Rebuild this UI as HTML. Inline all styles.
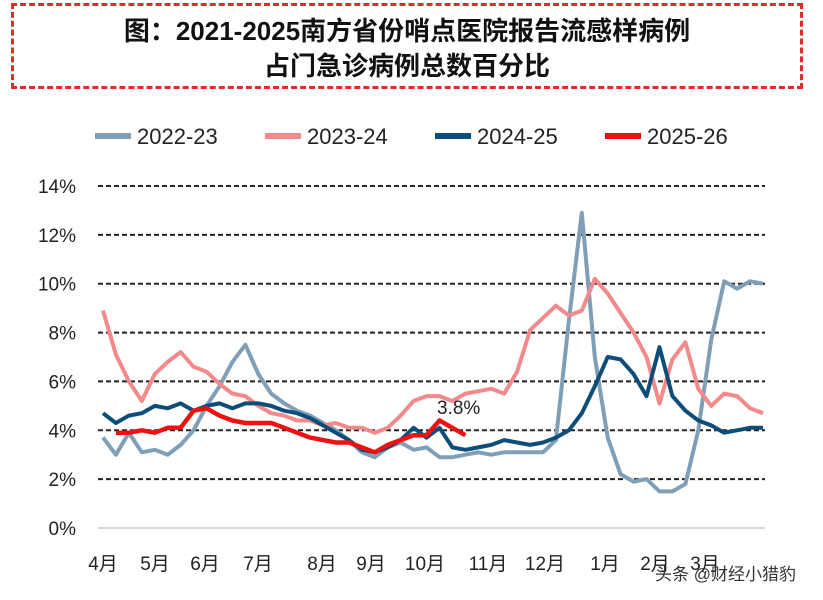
<!DOCTYPE html>
<html><head><meta charset="utf-8"><style>
body{margin:0;background:#fff;width:823px;height:600px;overflow:hidden;font-family:"Liberation Sans","Noto Sans CJK SC",sans-serif;}
#title{position:absolute;left:11px;top:3px;width:792px;height:86px;border:3px dashed #e8282b;box-sizing:border-box;text-align:center;font-weight:bold;font-size:26px;line-height:35px;padding-top:8px;color:#111;}
svg{position:absolute;left:0;top:0}
</style></head><body>
<div id="title">图：2021-2025南方省份哨点医院报告流感样病例<br>占门急诊病例总数百分比</div>
<svg id="c" width="823" height="600"></svg>
<script>
const months=["4月","5月","6月","7月","8月","9月","10月","11月","12月","1月","2月","3月"];
const monthX=[103,155,205,258,322,371,425,488,545,605,655,705];
const yTicks=[0,2,4,6,8,10,12,14];
const s2223=[3.7,3.0,3.9,3.1,3.2,3.0,3.4,4.0,5.0,5.8,6.8,7.5,6.3,5.5,5.1,4.8,4.6,4.3,4.0,3.6,3.1,2.9,3.3,3.5,3.2,3.3,2.9,2.9,3.0,3.1,3.0,3.1,3.1,3.1,3.1,3.6,8.5,12.9,7.0,3.7,2.2,1.9,2.0,1.5,1.5,1.8,4.0,7.7,10.1,9.8,10.1,10.0];
const s2324=[8.9,7.1,6.0,5.2,6.3,6.8,7.2,6.6,6.4,5.9,5.5,5.4,5.0,4.7,4.6,4.4,4.4,4.2,4.3,4.1,4.1,3.9,4.1,4.6,5.2,5.4,5.4,5.2,5.5,5.6,5.7,5.5,6.4,8.1,8.6,9.1,8.7,8.9,10.2,9.6,8.8,8.0,7.0,5.1,6.9,7.6,5.7,5.0,5.5,5.4,4.9,4.7];
const s2425=[4.7,4.3,4.6,4.7,5.0,4.9,5.1,4.8,5.0,5.1,4.9,5.1,5.1,5.0,4.8,4.7,4.5,4.2,3.9,3.6,3.2,3.1,3.3,3.6,4.1,3.7,4.1,3.3,3.2,3.3,3.4,3.6,3.5,3.4,3.5,3.7,4.0,4.7,5.8,7.0,6.9,6.3,5.4,7.4,5.4,4.8,4.4,4.2,3.9,4.0,4.1,4.1];
const s2526=[null,3.9,3.9,4.0,3.9,4.1,4.1,4.8,4.9,4.6,4.4,4.3,4.3,4.3,4.1,3.9,3.7,3.6,3.5,3.5,3.3,3.1,3.4,3.6,3.8,3.8,4.4,4.1,3.8];
const seriesNames=["2022-23","2023-24","2024-25","2025-26"];
const seriesData=[s2223,s2324,s2425,s2526];
const colors=["#7f9fb8","#f28a8c","#0d4d7a","#ee1111"];
const widths=[4,4,4,4.5];
const svg=document.getElementById('c');
const NS="http://www.w3.org/2000/svg";
const y=v=>528-v*(528-186)/14;
const x=i=>103+i*(763-103)/51;
function mk(t,a,p){const e=document.createElementNS(NS,t);for(const k in a)e.setAttribute(k,a[k]);(p||svg).appendChild(e);return e;}
yTicks.forEach(t=>{
 if(t>0){const l=mk('line',{x1:98,x2:765,y1:y(t),y2:y(t),stroke:'#222','stroke-width':2,'stroke-dasharray':'5,3'});
 
 }
 const tx=mk('text',{x:76,y:y(t)+7,'text-anchor':'end','font-size':19,fill:'#222'});tx.textContent=t+'%';
 
 
});
const ax=mk('line',{x1:98,x2:765,y1:528,y2:528,stroke:'#ccc','stroke-width':1.5});


months.forEach((m,i)=>{const t=mk('text',{x:monthX[i],y:570,'text-anchor':'middle','font-size':19,fill:'#222'});t.textContent=m;
 
 });
seriesData.forEach((d,s)=>{
 let p='';d.forEach((v,i)=>{if(v==null)return;p+=(p?'L':'M')+x(i).toFixed(1)+','+y(v).toFixed(1);});
 const e=mk('path',{d:p,fill:'none',stroke:colors[s],'stroke-width':widths[s],'stroke-linejoin':'round'});
 
 
});
const lx=[95,265,435,605];
seriesNames.forEach((n,i)=>{
 const g=mk('g',{});
 
 
 mk('line',{x1:lx[i],x2:lx[i]+36,y1:136,y2:136,stroke:colors[i],'stroke-width':6},g);
 const t=mk('text',{x:lx[i]+42,y:144,'font-size':22,fill:'#222'},g);t.textContent=n;
});
const lab=mk('text',{x:437,y:414,'font-size':19,fill:'#222'});lab.textContent='3.8%';


const wm=mk('text',{x:655,y:580,'font-size':17,fill:'#333'});wm.textContent='头条 @财经小猎豹';


</script>
</body></html>
